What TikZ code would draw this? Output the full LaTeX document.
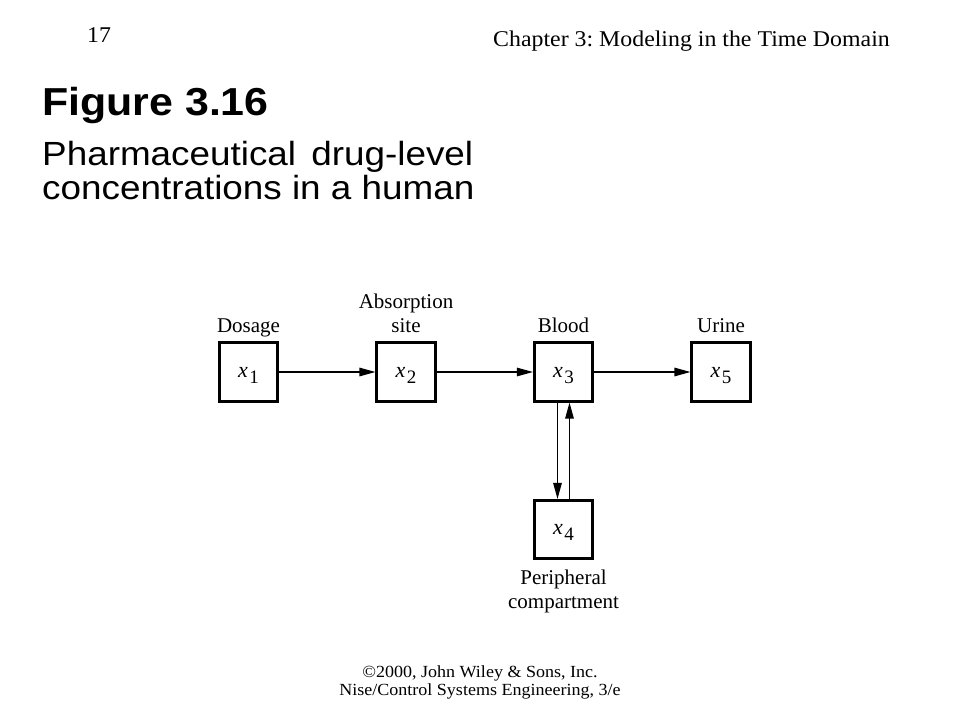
\documentclass[tikz,border=0pt]{standalone}
\usepackage{fontspec}
\setmainfont{Liberation Serif}
\newfontfamily\slidesans{Liberation Sans}[FakeStretch=1.1]
\newfontfamily\slideserif{Liberation Serif}[FakeStretch=1.06]
\usetikzlibrary{arrows.meta}
\usetikzlibrary{calc}
\frenchspacing
\newcommand{\xsub}[1]{\textit{x}\kern1.5pt\raisebox{-6pt}[0pt][0pt]{\fontsize{19}{19}\selectfont #1}}
\tikzstyle{comp} = [draw,line width=2.6pt,minimum size=58.5pt,inner sep=0pt,font=\fontsize{22}{24}\selectfont]
\tikzstyle{lbl} = [inner sep=0pt,align=center,text depth=0pt,font=\fontsize{21}{24}\selectfont]
\tikzstyle{flow} = [->,line width=1.2pt]

\begin{document}
\begin{tikzpicture}[x=1pt,y=-1pt,>={Triangle[length=16pt,width=8.5pt]}]
\useasboundingbox (0,0) rectangle (960,720);

% Slide header, title and footer
    \node[anchor=base,inner sep=0pt,font=\slideserif\fontsize{22.5}{24}\selectfont] at (99,42) (page) {17};
    \node[anchor=base west,inner sep=0pt,font=\slideserif\fontsize{22.5}{24}\selectfont] at (493,46) (chap) {Chapter 3: Modeling in the Time Domain};
    \node[anchor=base west,inner sep=0pt,font=\slidesans\bfseries\fontsize{39}{40}\selectfont] at (42,115) (fig) {Figure 3.16};
    \node[anchor=south west,inner sep=0pt,align=left,font=\slidesans\fontsize{33.5}{33.5}\selectfont] at (42,200) (cap) {Pharmaceutical\hspace{0.15em} drug-level\\concentrations in a human};
    \node[anchor=north,inner sep=0pt,align=center,font=\slideserif\fontsize{17}{18}\selectfont] at (480,665) (foot) {©2000, John Wiley \& Sons, Inc.\\Nise/Control Systems Engineering, 3/e};

% Draw compartments and their names
    \def\sp{157.5}
    \node[comp] at (248.5,372) (x1) {\xsub{1}};
    \node[comp] at (248.5+\sp,372) (x2) {\xsub{2}};
    \node[comp] at (248.5+2*\sp,372) (x3) {\xsub{3}};
    \node[comp] at (248.5+3*\sp,372) (x5) {\xsub{5}};
    \node[comp] at (248.5+2*\sp,529.5) (x4) {\xsub{4}};
    \node[lbl,anchor=south] at ([yshift=8.5pt]x1.north) (dosage) {Dosage};
    \node[lbl,anchor=south] at ([yshift=8.5pt]x2.north) (absorb) {Absorption\\site};
    \node[lbl,anchor=south] at ([yshift=8.5pt]x3.north) (blood) {Blood};
    \node[lbl,anchor=south] at ([yshift=8.5pt]x5.north) (urine) {Urine};
    \node[lbl,anchor=north] at ([yshift=-9.5pt]x4.south) (periph) {Peripheral\\compartment};

% Transfers between compartments
    \draw[flow] (x1) -- (x2);
    \draw[flow] (x2) -- (x3);
    \draw[flow] (x3) -- (x5);
    \draw[flow] ([xshift=-6pt]x3.south) -- ([xshift=-6pt]x4.north);
    \draw[flow] ([xshift=6pt]x4.north) -- ([xshift=6pt]x3.south);

\end{tikzpicture}
\end{document}
